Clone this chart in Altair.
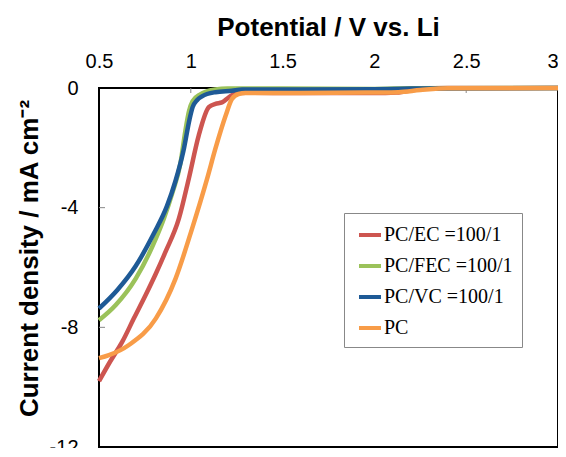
import altair as alt
import pandas as pd

# ---- data ----
ec_v = [0.5, 0.56, 0.627, 0.69, 0.754, 0.81, 0.862, 0.935, 0.989, 1.043, 1.098, 1.134, 1.17, 1.207, 1.243, 1.3, 1.6, 2.0, 2.12, 2.25, 2.4, 3.0]
ec_j = [-9.8, -9.15, -8.48, -7.7, -6.92, -6.2, -5.48, -4.37, -3.03, -1.59, -0.64, -0.53, -0.48, -0.31, -0.18, -0.16, -0.17, -0.17, -0.15, -0.03, 0.0, 0.0]

fec_v = [0.5, 0.59, 0.7, 0.81, 0.853, 0.9, 0.944, 0.97, 0.99, 1.01, 1.05, 1.08, 1.134, 1.2, 1.5, 2.0, 2.2, 3.0]
fec_j = [-7.76, -7.26, -6.37, -5.03, -4.37, -3.5, -2.5, -1.45, -0.78, -0.44, -0.22, -0.13, -0.05, -0.02, -0.02, -0.03, -0.01, 0.0]

vc_v = [0.5, 0.6, 0.7, 0.8, 0.87, 0.917, 0.96, 0.993, 1.01, 1.035, 1.061, 1.134, 1.224, 1.28, 1.6, 2.0, 2.2, 3.0]
vc_j = [-7.37, -6.75, -5.95, -4.85, -3.95, -3.1, -2.1, -1.05, -0.64, -0.4, -0.28, -0.14, -0.09, -0.05, -0.05, -0.04, -0.02, 0.0]

pc_v = [0.5, 0.554, 0.663, 0.81, 0.917, 1.007, 1.089, 1.134, 1.19, 1.224, 1.26, 1.297, 1.6, 2.0, 2.13, 2.25, 2.4, 3.0]
pc_j = [-9.03, -8.93, -8.59, -7.7, -6.37, -4.7, -3.03, -2.03, -0.92, -0.37, -0.2, -0.17, -0.17, -0.15, -0.14, -0.07, -0.01, 0.0]

series_names = ["PC/EC =100/1", "PC/FEC =100/1", "PC/VC =100/1", "PC"]
series_colors = ["#CD5550", "#9BC25A", "#1E5A96", "#F89C48"]

x_ticks = [0.5, 1, 1.5, 2, 2.5, 3]
y_ticks = [-12, -8, -4, 0]
inner_x_ticks = [1, 1.5, 2, 2.5]
inner_y_ticks = [-4, -8]

rows = []
for name, vs, js in zip(series_names, [ec_v, fec_v, vc_v, pc_v], [ec_j, fec_j, vc_j, pc_j]):
    for order, (v, j) in enumerate(zip(vs, js)):
        rows.append({"series": name, "V": v, "J": j, "o": order})
df = pd.DataFrame(rows)

x_scale = alt.Scale(domain=[0.5, 3], nice=False, zero=False)
y_scale = alt.Scale(domain=[-12, 0], nice=False, zero=False)

x_axis = alt.Axis(
    orient="top", values=x_ticks, labelExpr="'' + datum.value",
    title="Potential / V vs. Li", titleFont="Liberation Sans", titleFontSize=26,
    titleFontWeight="bold", titleColor="black", titleBaseline="alphabetic",
    titleY=-53, titleX=229,
    labelFont="Liberation Sans", labelFontSize=20, labelColor="black",
    labelBaseline="alphabetic", labelPadding=21,
    labelAlign={"condition": {"test": "datum.value == 3", "value": "right"}, "value": "center"},
    ticks=False, tickSize=0, domain=False, grid=False, labelFlush=False,
)
y_axis = alt.Axis(
    values=y_ticks, labelExpr="'' + datum.value",
    title="Current density / mA cm⁻²", titleFont="Liberation Sans", titleFontSize=26,
    titleFontWeight="bold", titleColor="black", titleBaseline="alphabetic",
    titleAngle=270, titleX=-62, titleY=170, titleAlign="center",
    labelFont="Liberation Sans", labelFontSize=20, labelColor="black",
    labelPadding=21, ticks=False, tickSize=0, domain=False, grid=False, labelFlush=False,
)

lines = alt.Chart(df).mark_line(strokeWidth=4.5, interpolate="monotone").encode(
    x=alt.X("V:Q", scale=x_scale, axis=x_axis),
    y=alt.Y("J:Q", scale=y_scale, axis=y_axis),
    color=alt.Color(
        "series:N",
        scale=alt.Scale(domain=series_names, range=series_colors),
        sort=series_names,
        legend=alt.Legend(
            title=None, orient="none", legendX=245, legendY=125,
            fillColor="white", strokeColor="#888888", padding=9, symbolOffset=4,
            symbolType="stroke", symbolStrokeWidth=4, symbolSize=484,
            labelFont="Liberation Serif", labelFontSize=20, labelColor="black",
            labelOffset=1, rowPadding=8, labelLimit=300,
        ),
    ),
    order=alt.Order("o:Q"),
    detail="series:N",
)

xt = alt.Chart(pd.DataFrame({"V": inner_x_ticks})).mark_rule(color="#888888", strokeWidth=1).encode(
    x=alt.X("V:Q", scale=x_scale, axis=x_axis),
    y=alt.value(0), y2=alt.value(5),
)
yt = alt.Chart(pd.DataFrame({"J": inner_y_ticks})).mark_rule(color="#888888", strokeWidth=1).encode(
    y=alt.Y("J:Q", scale=y_scale, axis=y_axis),
    x=alt.value(0), x2=alt.value(6),
)

chart = alt.layer(xt, yt, lines).properties(
    width=459, height=359,
    autosize=alt.AutoSizeParams(type="none"),
    padding={"left": 91, "top": 80, "right": 0, "bottom": 1},
).configure_view(stroke="black", strokeWidth=2)

chart.save("out.html", embed_options={"renderer": "svg", "actions": False})
